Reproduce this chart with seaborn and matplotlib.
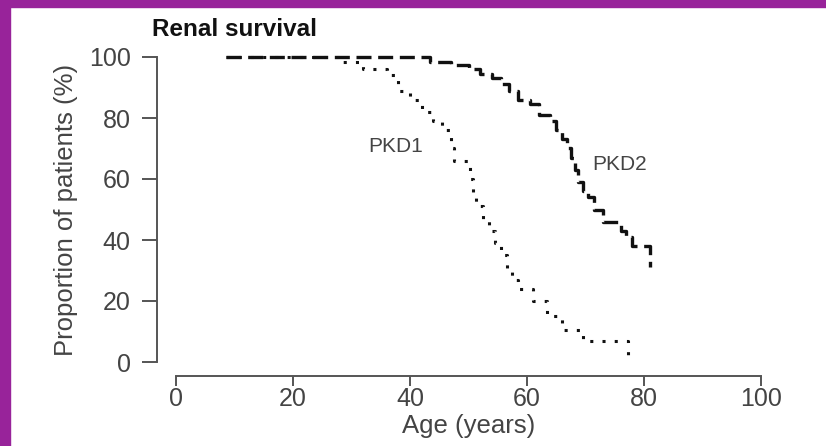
import matplotlib
matplotlib.use("Agg")
import matplotlib.pyplot as plt
from matplotlib.patches import Rectangle
import pandas as pd
import seaborn as sns

# Kaplan-Meier style step data (age in years, % surviving)
pkd2_age = [8.5, 43.5, 47.0, 50.0, 52.0, 54.0, 55.5, 57.0, 58.5, 60.5, 62.0,
            64.0, 65.0, 66.0, 66.8, 67.5, 68.2, 68.8, 69.5, 70.5, 71.5, 73.0,
            76.0, 77.0, 78.0, 81.0]
pkd2_surv = [100, 98.5, 97.5, 96, 94.5, 93, 91, 89, 86, 84.5, 81,
             79, 76, 73, 70, 67, 63, 59, 56, 54, 50, 46,
             43, 41, 38, 31]

pkd1_age = [8.5, 28.0, 32.0, 36.0, 38.0, 40.0, 42.0, 44.0, 45.5, 47.0, 47.5,
            50.3, 50.8, 51.3, 52.5, 53.5, 54.5, 55.5, 56.5, 57.5, 58.5, 61.0,
            63.4, 66.0, 69.6, 77.3]
pkd1_surv = [100, 98.5, 96, 94, 89, 86, 82, 79, 76, 70, 66,
             60, 55, 51, 47, 43, 39, 35, 30, 27, 24, 20,
             15, 10.5, 7, 0]

x_ticks = [0, 20, 40, 60, 80, 100]
y_ticks = [0, 20, 40, 60, 80, 100]

title = "Renal survival"
x_label = "Age (years)"
y_label = "Proportion of patients (%)"

sns.set_theme(style="white")
plt.rcParams["font.family"] = ["Liberation Sans", "DejaVu Sans"]

W, H = 826, 446
fig = plt.figure(figsize=(W / 100, H / 100), dpi=100)
ax = fig.add_axes([176 / W, (H - 362) / H, (761 - 176) / W, (362 - 57) / H])

pkd2 = pd.DataFrame({"age": pkd2_age, "surv": pkd2_surv})
pkd1 = pd.DataFrame({"age": pkd1_age, "surv": pkd1_surv})

sns.lineplot(data=pkd1, x="age", y="surv", ax=ax, estimator=None, sort=False,
             color="#111111", linewidth=2.2, linestyle=(0, (1, 3)),
             drawstyle="steps-post", clip_on=False)
sns.lineplot(data=pkd2, x="age", y="surv", ax=ax, estimator=None, sort=False,
             color="#111111", linewidth=2.4, linestyle=(0, (4.5, 2)),
             drawstyle="steps-post", clip_on=False)

ax.set_xlim(0, 100)
ax.set_ylim(0, 100)
ax.set_xticks(x_ticks)
ax.set_yticks(y_ticks)
ax.set_xlabel(x_label, fontsize=18.5, color="#444444", labelpad=2)
ax.set_ylabel(y_label, fontsize=18.5, color="#444444", labelpad=8)

sns.despine(ax=ax, offset={"left": 13.7, "bottom": 10})
for side in ["left", "bottom"]:
    ax.spines[side].set_color("#555555")
    ax.spines[side].set_linewidth(1.4)
ax.tick_params(axis="y", left=True, direction="out", length=10.8, width=1.4,
               color="#555555", labelsize=18, labelcolor="#444444", pad=8)
ax.tick_params(axis="x", bottom=True, direction="out", length=7, width=1.4,
               color="#555555", labelsize=18, labelcolor="#444444", pad=1)
ax.grid(False)

ax.text(37.5, 70.5, "PKD1", fontsize=15, color="#444444", ha="center", va="center")
ax.text(75.9, 64.6, "PKD2", fontsize=15, color="#444444", ha="center", va="center")

fig.text(152 / W, 1 - 30 / H, title, fontsize=17.5, fontweight="bold",
         color="#111111", ha="left", va="center")

purple = "#98239a"
fig.add_artist(Rectangle((0, 0), 10 / W, 1, transform=fig.transFigure,
                         color=purple, zorder=10))
fig.add_artist(Rectangle((0, 1 - 7 / H), 1, 7 / H, transform=fig.transFigure,
                         color=purple, zorder=10))

fig.savefig("out.png", dpi=100)
